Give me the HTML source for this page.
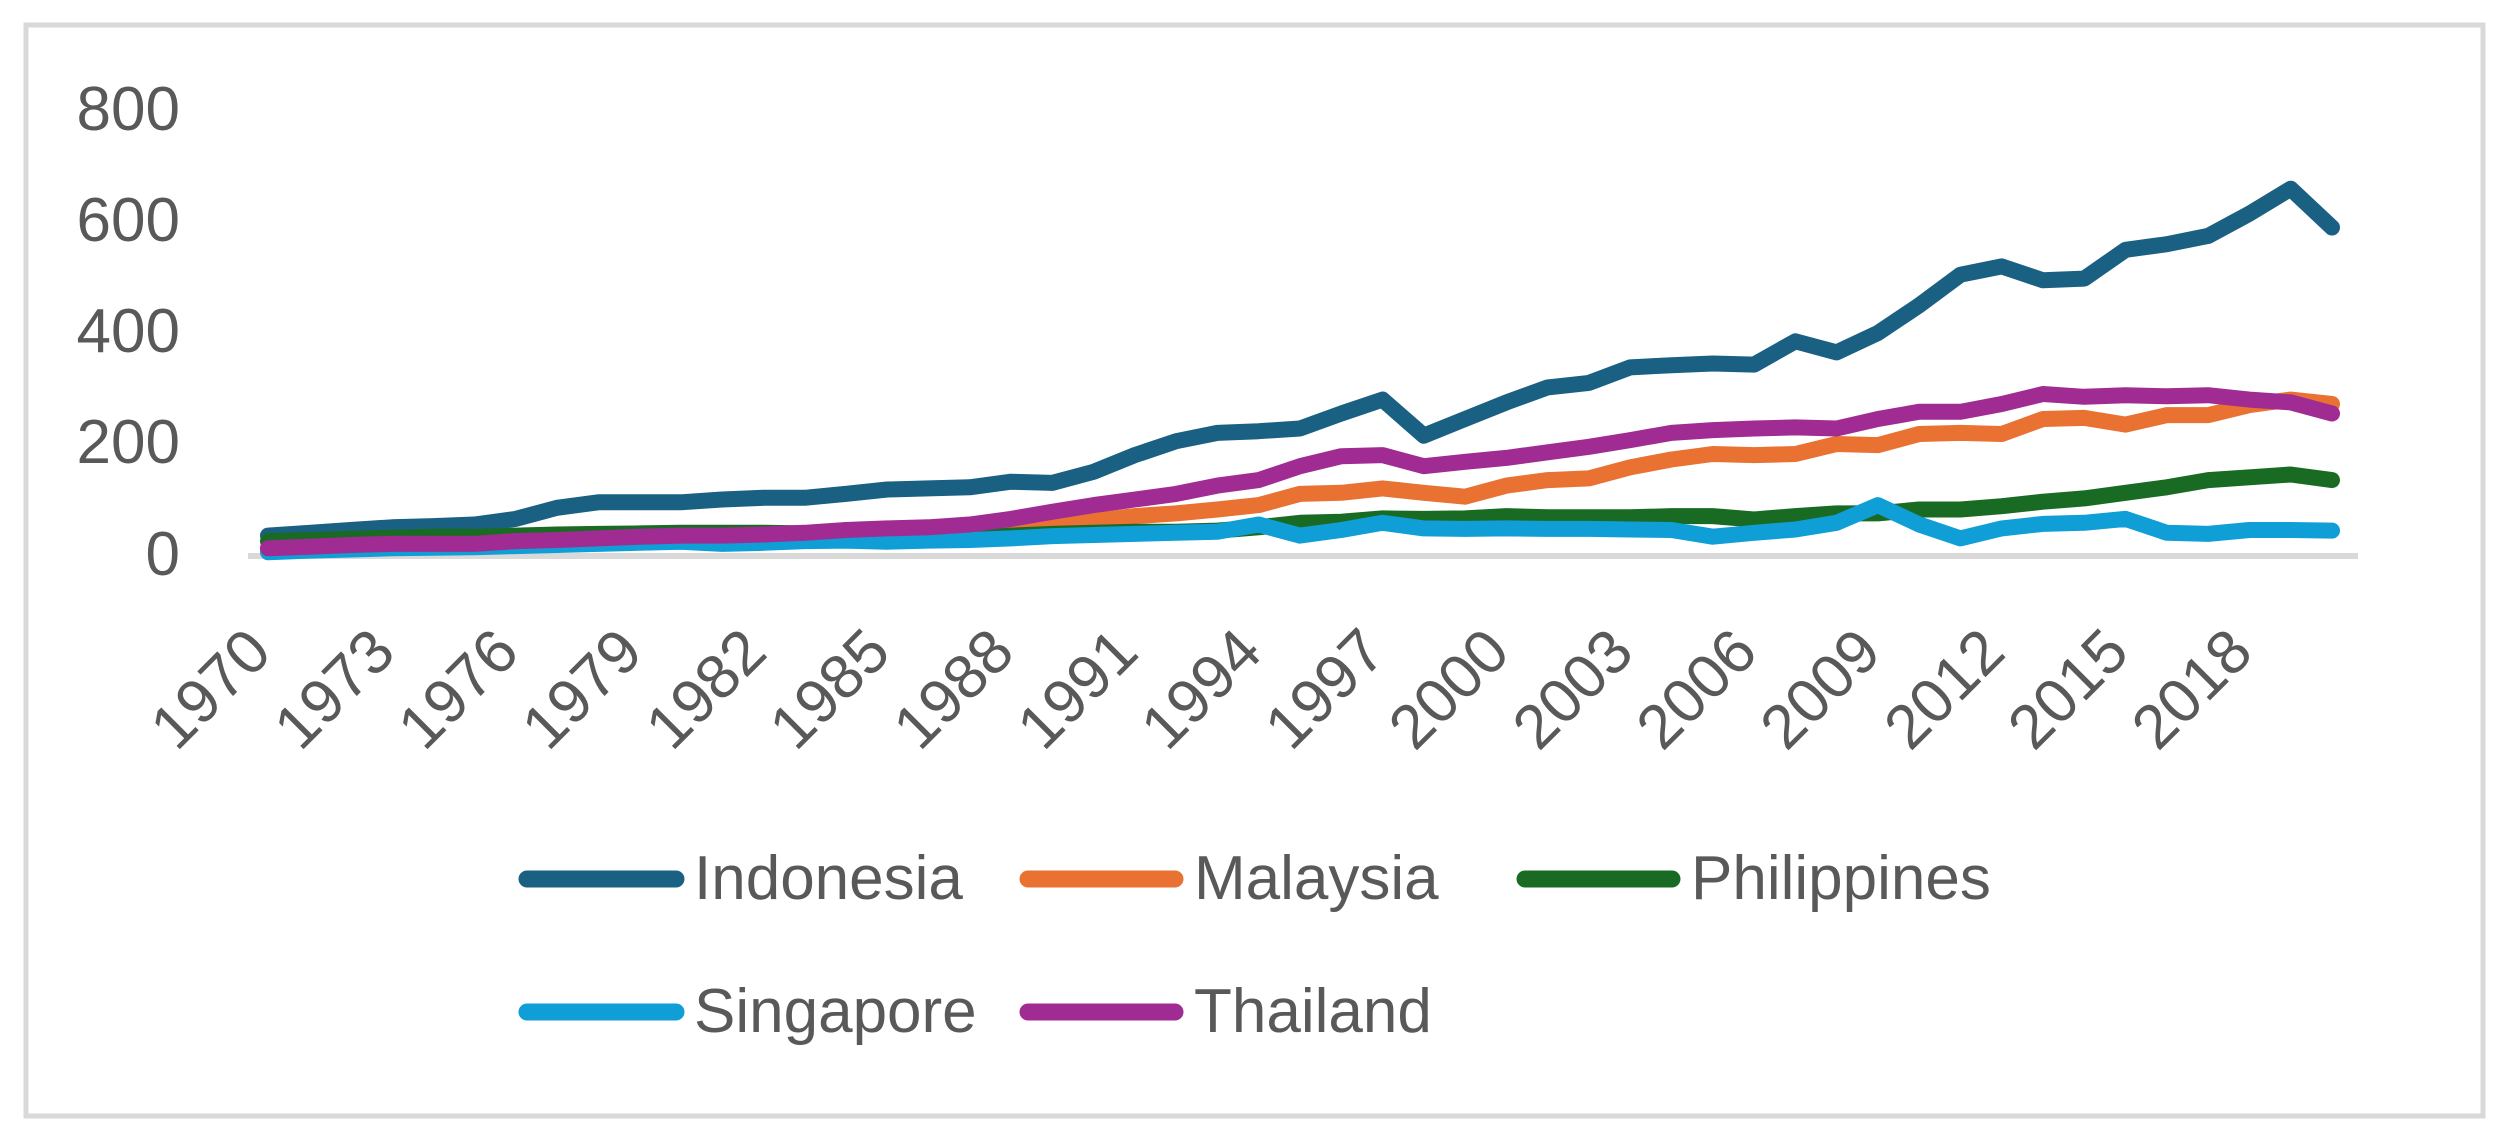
<!DOCTYPE html>
<html><head><meta charset="utf-8"><style>
html,body{margin:0;padding:0;background:#fff;}
svg{display:block;font-family:"Liberation Sans",sans-serif;}
</style></head><body>
<svg id="c" width="2499" height="1140" viewBox="0 0 2499 1140">
<rect x="0" y="0" width="2499" height="1140" fill="#fff"/>
<rect x="26" y="25" width="2457" height="1091" fill="#fff" stroke="#d9d9d9" stroke-width="5"/>
<line x1="248" y1="556" x2="2358" y2="556" stroke="#d9d9d9" stroke-width="6"/>
<g fill="#595959" font-size="62" text-anchor="end">
<text x="180" y="130">800</text>
<text x="180" y="241">600</text>
<text x="180" y="352">400</text>
<text x="180" y="463">200</text>
<text x="180" y="575">0</text>
</g>
<g id="xl" fill="#595959" font-size="62" text-anchor="end"></g>
<g id="series" fill="none" stroke-width="16" stroke-linejoin="round" stroke-linecap="round"></g>
<g stroke-width="17" stroke-linecap="round">
<line x1="527" y1="879" x2="676" y2="879" stroke="#1a6082"/>
<line x1="1028" y1="879" x2="1175" y2="879" stroke="#e97132"/>
<line x1="1525" y1="879" x2="1672" y2="879" stroke="#196b24"/>
<line x1="527" y1="1012" x2="676" y2="1012" stroke="#0f9ed5"/>
<line x1="1028" y1="1012" x2="1175" y2="1012" stroke="#a02b93"/>
</g>
<g fill="#595959" font-size="62">
<text x="694" y="899">Indonesia</text>
<text x="1194" y="899">Malaysia</text>
<text x="1691" y="899">Philippines</text>
<text x="694" y="1032">Singapore</text>
<text x="1194" y="1032">Thailand</text>
</g>
</svg>
<script>
(function(){
var x0=268,dx=41.28,y0=555,k=0.555;
var ns="http://www.w3.org/2000/svg";
var d={
"#1a6082":[35,40,45,50,52,55,65,85,95,95,95,100,103,103,110,118,120,122,132,130,150,180,205,220,223,228,255,280,215,245,275,302,310,338,342,345,343,385,365,400,450,505,520,495,498,550,560,575,615,660,590],
"#e97132":[10,12,13,14,15,16,18,20,22,25,27,27,30,33,35,38,40,42,48,55,62,70,75,82,90,110,112,120,112,105,125,135,138,158,172,182,180,182,200,198,218,220,218,245,247,235,252,252,270,280,272],
"#196b24":[25,27,29,31,33,33,35,37,38,39,40,40,40,39,37,33,30,32,35,38,40,42,42,44,50,58,60,66,65,66,70,68,68,68,70,70,64,70,75,75,82,82,88,96,102,112,122,135,140,145,135],
"#0f9ed5":[5,8,10,12,13,14,16,18,20,22,24,20,22,25,26,24,26,27,30,34,36,38,40,42,55,35,45,58,48,47,48,47,47,46,45,33,40,46,58,90,55,30,48,56,58,65,40,38,45,45,44],
"#a02b93":[12,15,18,20,20,20,25,27,30,33,35,35,37,40,45,48,50,55,65,78,90,100,110,125,135,160,178,180,160,168,175,185,195,207,220,225,228,230,228,245,258,258,272,290,285,288,286,288,280,275,255]
};
var g=document.getElementById("series");
for(var c in d){var p=d[c].map(function(v,i){return (x0+dx*i).toFixed(1)+","+(y0-v*k).toFixed(1);}).join(" ");
var pl=document.createElementNS(ns,"polyline");pl.setAttribute("points",p);pl.setAttribute("stroke",c);g.appendChild(pl);}
})();
</script>
<svg width="0" height="0" style="position:absolute"></svg>
<script>
(function(){
var ns="http://www.w3.org/2000/svg",g=document.getElementById("xl");
var yrs=["1970","1973","1976","1979","1982","1985","1988","1991","1994","1997","2000","2003","2006","2009","2012","2015","2018"];
yrs.forEach(function(y,i){var x=268+41.28*3*i+6;var t=document.createElementNS(ns,"text");
t.setAttribute("x",x);t.setAttribute("y",655);t.setAttribute("transform","rotate(-45 "+x+" 655)");t.textContent=y;g.appendChild(t);});
})();
</script>
</body></html>
